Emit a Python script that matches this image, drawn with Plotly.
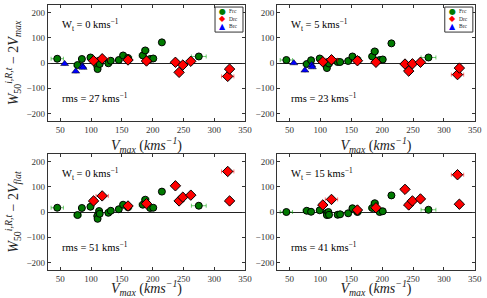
import plotly.graph_objects as go

# ---------------- data ----------------
vmax_frc = [45, 78, 85, 99, 110, 110.6, 113, 114, 128, 132, 145, 152, 160, 184, 188, 196, 201, 215, 275]
err_frc = [10, 6, 4, 5, 4, 4, 5, 4, 4, 4, 4, 5, 6, 6, 6, 4, 4, 3, 12]
frc_p1 = [17, -8, 16, 22, -13, -24, 9, -4, -1, 9, 12, 30, 20, 30, 50, 16, 18, 82, 26]
frc_p2 = [12, -4, 11, 18, -8, -20, 5, -2, 4, 4, 8, 26, 13, 26, 46, 12, 14, 78, 22]
frc_p3 = [17, -12, 16, 21, -16, -27, 4, -7, -3, 5, 11, 29, 19, 29, 49, 16, 17, 81, 25]
frc_p4 = [0, 5, 1, 7, -4, -12, 0, -11, -11, -9, -5, 15, 0, 16, 35, 0, 3, 66, 9]

vmax_drc = [104, 118, 160, 190, 237, 243, 249, 262, 322, 325]
err_drc = [5, 10, 5, 6, 5, 4, 4, 5, 10, 3]
drc_p1 = [9, 17, 12, 8, 3, -37, -8, 7, -53, -24]
drc_p2 = [5, 13, 9, 3, -4, -32, -3, 3, -46, -20]
drc_p3 = [44, 64, 24, 33, 104, 44, 59, 67, 161, 44]
drc_p4 = [28, 50, 8, 17, 90, 28, 44, 52, 148, 31]

vmax_brc = [57, 75, 86, 87]
err_brc = [1, 1, 2, 2]
brc_p1 = [-3, -33, -13, -18]
brc_p2 = [0, -29, -8, -16]

wt_labels = ["0", "5", "0", "15"]
rms_labels = ["27", "23", "51", "41"]
x_ticks = [50, 100, 150, 200, 250, 300, 350]
y_ticks = [-200, -100, 0, 100, 200]

legend_names = ["Frc", "Drc", "Brc"]
legend_glyphs = ["●", "◆", "▲"]
legend_colors = ["#007a00", "#ff0000", "#0000ff"]

FONT = "Liberation Serif"

fig = go.Figure()

xdom = [[0.0986, 0.503], [0.569, 0.975], [0.0986, 0.503], [0.569, 0.975]]
ydom = [[0.594, 0.983], [0.594, 0.983], [0.094, 0.483], [0.094, 0.483]]

panels = [
    (frc_p1, drc_p1, brc_p1),
    (frc_p2, drc_p2, brc_p2),
    (frc_p3, drc_p3, None),
    (frc_p4, drc_p4, None),
]

for i, (fy, dy, by) in enumerate(panels):
    n = i + 1
    xa = "x" if n == 1 else f"x{n}"
    ya = "y" if n == 1 else f"y{n}"
    fig.add_trace(go.Scatter(
        x=vmax_frc, y=fy, mode="markers", name="Frc", xaxis=xa, yaxis=ya,
        showlegend=False,
        marker=dict(symbol="circle", size=7, color="#007a00", line=dict(color="black", width=1)),
        error_x=dict(type="data", array=err_frc, color="rgba(0,160,0,0.55)", thickness=1, width=2),
    ))
    fig.add_trace(go.Scatter(
        x=vmax_drc, y=dy, mode="markers", name="Drc", xaxis=xa, yaxis=ya,
        showlegend=False,
        marker=dict(symbol="diamond", size=8, color="#ff0000", line=dict(color="black", width=1)),
        error_x=dict(type="data", array=err_drc, color="rgba(255,0,0,0.55)", thickness=1, width=2),
    ))
    if by is not None:
        fig.add_trace(go.Scatter(
            x=vmax_brc, y=by, mode="markers", name="Brc", xaxis=xa, yaxis=ya,
            showlegend=False,
            marker=dict(symbol="triangle-up", size=7, color="#0000ff", line=dict(color="black", width=0.5)),
            error_x=dict(type="data", array=err_brc, color="rgba(0,0,255,0.5)", thickness=1, width=2),
        ))

    axis_common = dict(
        showgrid=False, showline=True, linecolor="#333", linewidth=1.2, mirror="ticks",
        ticks="inside", ticklen=3, tickcolor="#333", automargin=False,
        tickfont=dict(family=FONT, size=9, color="#333"),
    )
    xk = "xaxis" if n == 1 else f"xaxis{n}"
    yk = "yaxis" if n == 1 else f"yaxis{n}"
    fig.layout[xk] = dict(
        axis_common, domain=xdom[i], anchor=ya, range=[30, 350], tickvals=x_ticks,
        zeroline=False,
        title=dict(text="<i>V<sub>max</sub></i> (<i>kms<sup>−1</sup></i>)",
                   font=dict(family=FONT, size=14, color="#222"), standoff=0),
    )
    ytitle = ""
    if n == 1:
        ytitle = "<i>W</i><sub>50</sub><sup><i>i,R,t</i></sup> − 2<i>V<sub>max</sub></i>"
    elif n == 3:
        ytitle = "<i>W</i><sub>50</sub><sup><i>i,R,t</i></sup> − 2<i>V<sub>flat</sub></i>"
    fig.layout[yk] = dict(
        axis_common, domain=ydom[i], anchor=xa, range=[-230, 230], tickvals=y_ticks,
        zeroline=True, zerolinecolor="#222", zerolinewidth=1.2,
        title=dict(text=ytitle, font=dict(family=FONT, size=14, color="#222"), standoff=4),
    )
    fig.add_annotation(
        x=50, y=150, xref=xa, yref=ya, xanchor="left", yanchor="middle", showarrow=False,
        text=f"W<sub>t</sub> = {wt_labels[i]} kms<sup>−1</sup>",
        font=dict(family=FONT, size=10.5, color="black"),
    )
    fig.add_annotation(
        x=50, y=-135, xref=xa, yref=ya, xanchor="left", yanchor="middle", showarrow=False,
        text=f"rms = {rms_labels[i]} kms<sup>−1</sup>",
        font=dict(family=FONT, size=10.5, color="black"),
    )

    # legend box for top panels
    if n <= 2:
        xdr = f"{xa} domain"
        ydr = f"{ya} domain"
        fig.add_shape(type="rect", xref=xdr, yref=ydr, x0=0.848, x1=0.99, y0=0.767, y1=0.983,
                      line=dict(color="#333", width=1), fillcolor="white", layer="above")
        for k, (nm, gl, col) in enumerate(zip(legend_names, legend_glyphs, legend_colors)):
            yy = 0.946 - k * 0.065
            fig.add_annotation(x=0.887, y=yy, xref=xdr, yref=ydr, showarrow=False,
                               text=gl, font=dict(family="DejaVu Sans", size=8, color=col),
                               xanchor="center", yanchor="middle")
            fig.add_annotation(x=0.91, y=yy, xref=xdr, yref=ydr, showarrow=False,
                               text=nm, font=dict(family=FONT, size=5.5, color="#222"),
                               xanchor="left", yanchor="middle")

fig.update_layout(
    width=487, height=298,
    margin=dict(l=0, r=0, t=0, b=0),
    paper_bgcolor="white", plot_bgcolor="white",
    showlegend=False,
)

fig.write_html("out.html", config={"displayModeBar": False},
               post_script="document.body.style.margin='0';document.body.style.padding='0';")
